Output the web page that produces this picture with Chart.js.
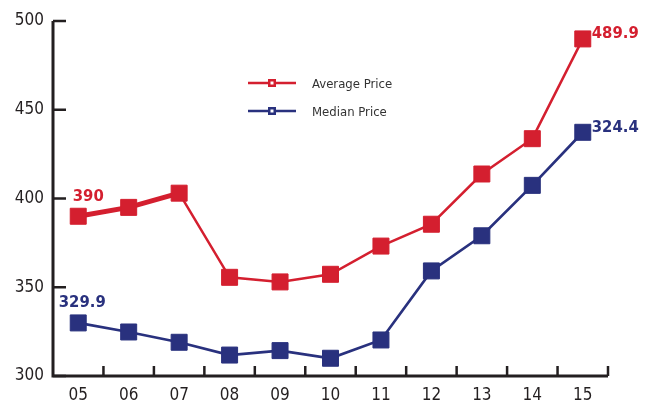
<!DOCTYPE html>
<html>
<head>
<meta charset="utf-8">
<script src="https://cdn.jsdelivr.net/npm/chart.js@4.4.1/dist/chart.umd.min.js"></script>
<style>
  html, body { margin: 0; padding: 0; background: #fff; }
  #wrap { width: 665px; height: 404px; }
</style>
</head>
<body>
<div id="wrap"><canvas id="priceChart" width="665" height="404"></canvas></div>
<script>
const years = ["05", "06", "07", "08", "09", "10", "11", "12", "13", "14", "15"];
const averagePrice = [390, 395, 403, 355.6, 353, 357.3, 373.2, 385.5, 413.8, 433.7, 489.9];
const medianPrice = [329.9, 324.8, 319, 311.8, 314.3, 310, 320.3, 359.2, 379, 407.4, 437.3];
const yTicks = [300, 350, 400, 450, 500];
// labels as printed on the chart (first and last point of each series)
const averageLabels = ["390", "489.9"];
const medianLabels = ["329.9", "324.4"];

const RED = "#d41f2f";
const BLUE = "#29317e";
const AXIS = "#231f20";
const FONT = "'DejaVu Sans Condensed', 'DejaVu Sans', sans-serif";

// draws axis lines with inward tick marks
const axesPlugin = {
  id: "axes",
  beforeDatasetsDraw(chart) {
    const { ctx, chartArea: a, scales } = chart;
    const y = scales.y;
    ctx.save();
    ctx.strokeStyle = AXIS;
    ctx.lineWidth = 3;
    ctx.beginPath();
    ctx.moveTo(a.left, y.getPixelForValue(500));
    ctx.lineTo(a.left, a.bottom);
    ctx.lineTo(a.right, a.bottom);
    ctx.stroke();
    ctx.lineWidth = 2.5;
    ctx.beginPath();
    yTicks.forEach(v => {
      const py = y.getPixelForValue(v);
      ctx.moveTo(a.left, py);
      ctx.lineTo(a.left + 13, py);
    });
    const step = (a.right - a.left) / years.length;
    for (let i = 1; i <= years.length; i++) {
      const px = a.left + step * i;
      ctx.moveTo(px, a.bottom);
      ctx.lineTo(px, a.bottom - 10);
    }
    ctx.stroke();
    ctx.restore();
  }
};

// value labels at first and last points + the legend box
const labelsPlugin = {
  id: "valueLabels",
  afterDatasetsDraw(chart) {
    const { ctx } = chart;
    ctx.save();
    ctx.font = "bold 16.5px " + FONT;
    ctx.textBaseline = "middle";
    const sets = [[0, RED, averageLabels], [1, BLUE, medianLabels]];
    sets.forEach(([di, color, labels]) => {
      const pts = chart.getDatasetMeta(di).data;
      const first = pts[0], last = pts[pts.length - 1];
      ctx.fillStyle = color;
      ctx.textAlign = "center";
      ctx.fillText(labels[0], first.x + (di === 0 ? 10 : 4), first.y - 20);
      ctx.textAlign = "left";
      ctx.fillText(labels[1], last.x + 9, last.y - 5);
    });

    // legend
    const items = [["Average Price", RED, 83], ["Median Price", BLUE, 111]];
    items.forEach(([text, color, ly]) => {
      ctx.strokeStyle = color;
      ctx.lineWidth = 2.5;
      ctx.beginPath();
      ctx.moveTo(248, ly);
      ctx.lineTo(296, ly);
      ctx.stroke();
      ctx.fillStyle = color;
      ctx.fillRect(268, ly - 4, 8, 8);
      ctx.fillStyle = "#fff";
      ctx.fillRect(270.5, ly - 1.5, 3, 3);
      ctx.fillStyle = "#333";
      ctx.font = "13px " + FONT;
      ctx.textAlign = "left";
      ctx.fillText(text, 312, ly + 2);
    });
    ctx.restore();
  }
};

new Chart(document.getElementById("priceChart"), {
  type: "line",
  data: {
    labels: years,
    datasets: [
      {
        label: "Average Price",
        data: averagePrice,
        borderColor: RED,
        backgroundColor: RED,
        borderWidth: 2.5,
        segment: {
          borderWidth: c => (c.p0DataIndex < 2 ? 5 : 2.5)
        },
        pointStyle: "rect",
        pointRadius: 11.3,
        pointBorderWidth: 1,
        pointBackgroundColor: RED,
        pointBorderColor: RED,
        tension: 0,
        clip: false
      },
      {
        label: "Median Price",
        data: medianPrice,
        borderColor: BLUE,
        backgroundColor: BLUE,
        borderWidth: 2.7,
        pointStyle: "rect",
        pointRadius: 11.3,
        pointBorderWidth: 1,
        pointBackgroundColor: BLUE,
        pointBorderColor: BLUE,
        tension: 0,
        clip: false
      }
    ]
  },
  options: {
    responsive: false,
    animation: false,
    layout: { padding: { top: 21, right: 57, left: 0, bottom: 0 } },
    plugins: {
      legend: { display: false },
      tooltip: { enabled: false }
    },
    scales: {
      x: {
        offset: true,
        grid: { display: false, drawTicks: false, offset: true },
        border: { display: false },
        ticks: { color: "#231f20", font: { family: FONT, size: 17 }, padding: 9, maxRotation: 0 },
        afterFit: s => { s.height = 28; }
      },
      y: {
        min: 300,
        max: 500,
        grid: { display: false, drawTicks: false },
        border: { display: false },
        afterBuildTicks: s => { s.ticks = yTicks.map(v => ({ value: v })); },
        ticks: { color: "#231f20", font: { family: FONT, size: 17 }, padding: 9 },
        afterFit: s => { s.width = 53; }
      }
    }
  },
  plugins: [axesPlugin, labelsPlugin]
});
</script>
</body>
</html>
